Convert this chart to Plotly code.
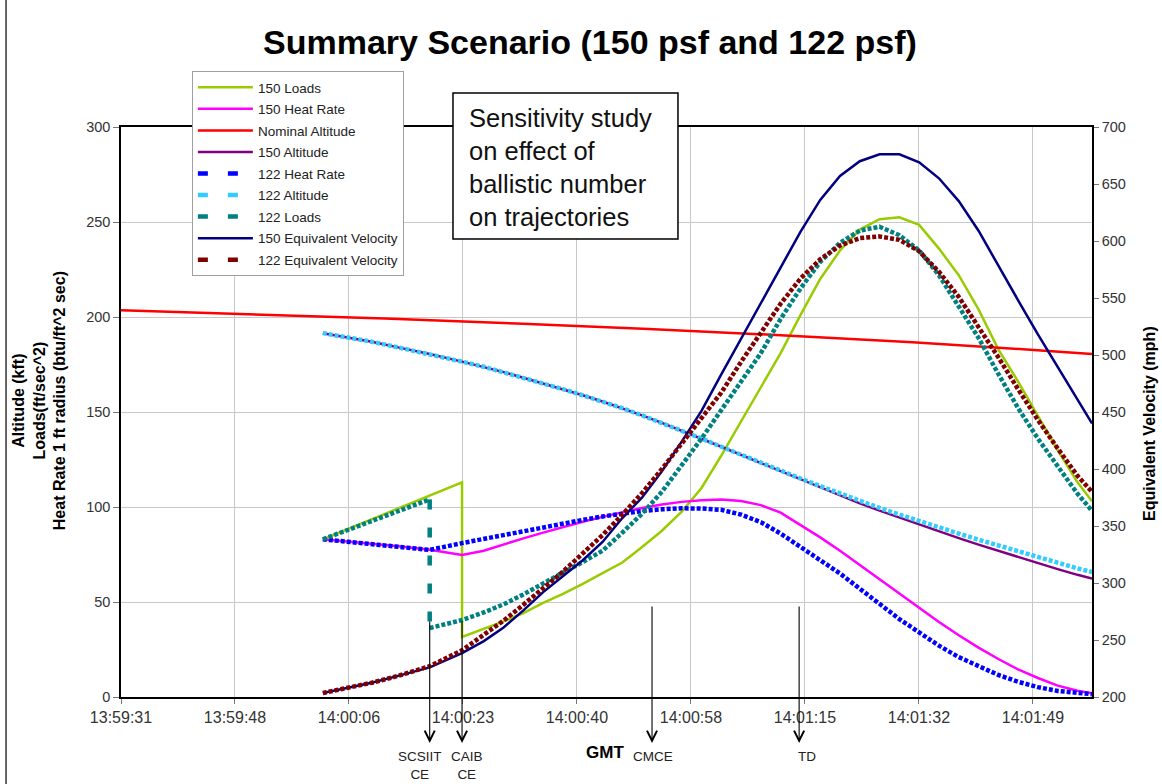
import plotly.graph_objects as go

# time axis: seconds after 13:59:31 GMT
tick_s = [0, 17.28, 34.56, 51.84, 69.12, 86.4, 103.68, 120.96, 138.24]
tick_labels = ["13:59:31", "13:59:48", "14:00:06", "14:00:23", "14:00:40",
               "14:00:58", "14:01:15", "14:01:32", "14:01:49"]

time_s = [30.6, 34, 38, 42, 46.8, 51.7, 55, 58, 61, 64, 67, 70, 73, 76, 79, 82, 85, 88, 91,
          94, 97, 100, 103, 106, 109, 112, 115, 118, 121, 124, 127, 130, 133, 136, 139, 142,
          145, 147.2]

heat_150 = [83, 82, 80.6, 79.3, 77.5, 74.8, 77, 80.4, 83.5, 86.5, 89.5, 92.2, 94.8, 97.3, 99.5,
            101.3, 102.7, 103.6, 104, 103.2, 101, 97, 90.5, 84, 77, 69.5, 62, 54.5, 47, 39.5,
            32.5, 26, 20, 14.5, 10, 6, 3.3, 2]
heat_122 = [83, 81.8, 80.4, 79.1, 77.4, 81, 83.3, 85.2, 87.2, 89.1, 91.2, 93.2, 95, 96.6, 97.9,
            98.8, 99.3, 99.2, 98.5, 96, 92, 86, 79, 72, 65, 57, 49, 41, 34, 27, 21, 16, 11.6, 8,
            5.2, 3.2, 2, 1.5]
alt_122 = [191.5, 189.5, 187, 184, 180.5, 176.5, 173.8, 171, 168, 165, 162, 158.8, 155.5, 152,
           148.2, 144.3, 140.2, 136, 131.7, 127.4, 123.1, 119, 115, 111, 107, 103, 99.5, 96,
           92.5, 89.2, 86, 82.8, 79.7, 76.6, 73.6, 70.6, 67.7, 65.8]
alt_150 = [191.5, 189.5, 187, 184, 180.5, 176.5, 173.8, 171, 168, 165, 162, 158.8, 155.5, 152,
           148.2, 144.3, 140.2, 136, 131.7, 127.4, 123.1, 118.8, 114.6, 110.4, 106.2, 101.9,
           98.1, 94.4, 90.6, 87.1, 83.6, 80.2, 76.9, 73.6, 70.4, 67.3, 64.3, 62.3]
vel_150 = [203.5, 207.5, 212.5, 218.5, 226, 238.5, 249, 261, 276, 292, 306, 320, 336, 357, 375,
           398, 424, 451, 483, 514, 545, 577, 608, 636, 657, 670, 676, 676, 669, 655, 635, 609,
           578, 548, 518, 489, 460, 440]
vel_122 = [203.5, 207.5, 212.5, 218.5, 227, 241, 254, 267, 281, 295, 310, 326, 342, 360, 379,
           400, 422, 444, 467, 494, 519, 545, 567, 584, 596, 602.5, 604, 601, 591, 573, 551,
           525, 498, 470, 443, 418, 394, 380]

loads_150_t = [30.6, 51.7, 51.7, 55, 58, 61, 64, 67, 70, 73, 76, 79, 82, 85, 88, 91, 94, 97,
               100, 103, 106, 109, 112, 115, 118, 121, 124, 127, 130, 133, 136, 139, 142, 145,
               147.2]
loads_150 = [83, 113, 31.6, 35.8, 39.8, 44.2, 49.5, 54.3, 59.5, 65.2, 70.8, 79, 87.5, 97.5,
             110, 127, 145, 163, 181, 201, 220, 235, 246, 251.5, 252.5, 248.5, 236, 222, 204,
             183, 166, 148, 130, 113, 103]
loads_122_t = [30.6, 46.8, 46.8, 51.7, 55, 58, 61, 64, 67, 70, 73, 76, 79, 82, 85, 88, 91, 94,
               97, 100, 103, 106, 109, 112, 115, 118, 121, 124, 127, 130, 133, 136, 139, 142,
               145, 147.2]
loads_122 = [83, 104, 36.3, 40.5, 44.5, 48.8, 54, 60, 65.5, 71, 77, 86.5, 96.5, 108, 122, 136,
             151, 166, 181, 199, 215, 229, 239, 245.5, 247.5, 243, 235, 222, 206, 189, 170, 152,
             136, 121, 107, 98]

nominal_t = [0, 20, 40, 60, 80, 100, 120, 140, 147.2]
nominal_alt = [203.5, 201.5, 199.2, 196.6, 193.7, 190.4, 186.7, 182.3, 180.5]

event_names = ["SCSIIT<br>CE", "CAIB<br>CE", "CMCE", "TD"]
event_s = [46.8, 51.7, 80.5, 102.8]

FONT = "Arial, Liberation Sans, sans-serif"
DOTS = "4px,2px"

fig = go.Figure()


def add_line(x, y, name, color, dotted=False, yaxis="y", legend=True):
    width = 4.5 if dotted else 2.5
    fig.add_trace(go.Scatter(x=x, y=y, name=name, mode="lines", yaxis=yaxis, legendgroup=name,
                             showlegend=legend and not dotted,
                             line=dict(color=color, width=width, dash=DOTS if dotted else None)))
    if dotted and legend:
        # legend sample drawn as two short dashes, like the original
        fig.add_trace(go.Scatter(x=[None], y=[None], name=name, mode="lines", yaxis=yaxis,
                                 legendgroup=name,
                                 line=dict(color=color, width=width, dash="10px,20px")))


add_line(loads_150_t, loads_150, "150 Loads", "#99CC00")
add_line(time_s, heat_150, "150 Heat Rate", "#FF00FF")
add_line(nominal_t, nominal_alt, "Nominal Altitude", "#FF0000")
add_line(time_s, alt_150, "150 Altitude", "#800080")
add_line(time_s, heat_122, "122 Heat Rate", "#0000FF", dotted=True)
add_line(time_s, alt_122, "122 Altitude", "#33CCFF", dotted=True)

# 122 loads: dotted curve, with the drop at SCSIIT drawn as long dashes
add_line(loads_122_t[:2] + [None] + loads_122_t[2:], loads_122[:2] + [None] + loads_122[2:],
         "122 Loads", "#008080", dotted=True)
fig.add_trace(go.Scatter(x=loads_122_t[1:3], y=loads_122[1:3], mode="lines", showlegend=False,
                         legendgroup="122 Loads",
                         line=dict(color="#008080", width=4.5, dash="10px,18px")))

add_line(time_s, vel_150, "150 Equivalent Velocity", "#000080", yaxis="y2")
add_line(time_s, vel_122, "122 Equivalent Velocity", "#800000", dotted=True, yaxis="y2")

# event arrows below the time axis
arrow_len = [123, 123, 138, 138]
label_shift = [-10, 5, 1, 8]
for name, t, alen, dx in zip(event_names, event_s, arrow_len, label_shift):
    fig.add_annotation(x=t, y=-0.0807, xref="x", yref="paper", text="", showarrow=True,
                       ax=0, ay=-alen, arrowhead=5, arrowsize=1.8, arrowwidth=1.1,
                       arrowcolor="black")
    fig.add_annotation(x=t, y=-0.088, xref="x", yref="paper", text=name, showarrow=False,
                       xshift=dx, xanchor="center", yanchor="top",
                       font=dict(size=13.5, color="#222"))

fig.add_annotation(x=0.4985, y=-0.0965, xref="paper", yref="paper", text="<b>GMT</b>",
                   xanchor="center", yanchor="middle", showarrow=False,
                   font=dict(size=17, color="black"))

fig.add_annotation(x=-0.0844, y=0.519, xref="paper", yref="paper", textangle=-90,
                   xanchor="center", yanchor="middle",
                   text="<b>Altitude (kft)<br>Loads(ft/sec^2)<br>"
                        "Heat Rate 1 ft radius (btu/ft^2 sec)</b>",
                   showarrow=False, font=dict(size=16, color="black"))
fig.add_annotation(x=1.0587, y=0.4807, xref="paper", yref="paper", textangle=-90,
                   xanchor="center", yanchor="middle",
                   text="<b>Equivalent Velocity (mph)</b>", showarrow=False,
                   font=dict(size=16, color="black"))

# note box
fig.add_shape(type="rect", xref="paper", yref="paper", x0=0.3419, x1=0.5736, y0=0.8035,
              y1=1.0596, fillcolor="white", line=dict(color="black", width=1.5), layer="above")
fig.add_annotation(x=0.3574, y=1.0421, xref="paper", yref="paper", xanchor="left",
                   yanchor="top", align="left", showarrow=False, borderpad=0,
                   text="Sensitivity study<br>on effect of<br>ballistic number<br>on trajectories",
                   font=dict(size=25.5, color="#111"))

# edge of the original chart frame on the left
fig.add_shape(type="line", xref="paper", yref="paper", x0=-0.1184, x1=-0.1184, y0=-0.1526,
              y1=1.2228, line=dict(color="#333", width=1.5))

axis_common = dict(showline=True, linecolor="black", linewidth=1.5, ticks="outside",
                   tickcolor="#777", zeroline=False, tickfont=dict(size=14.5, color="#333"))

fig.update_layout(
    width=1162, height=784,
    margin=dict(l=121, r=70, t=127, b=87),
    paper_bgcolor="white", plot_bgcolor="white",
    font=dict(family=FONT, color="black"),
    title=dict(text="<b>Summary Scenario (150 psf and 122 psf)</b>", x=0.5077, xref="container",
               y=0.9464, yref="container", xanchor="center", yanchor="middle",
               font=dict(size=34, color="black")),
    xaxis=dict(range=[0, 147.2], tickvals=tick_s, ticktext=tick_labels, showgrid=True,
               gridcolor="#C8C8C8", mirror=True, ticklen=5,
               **{**axis_common, "tickfont": dict(size=16, color="#333")}),
    yaxis=dict(range=[0, 300], dtick=50, showgrid=True, gridcolor="#C8C8C8", ticklen=6,
               **axis_common),
    yaxis2=dict(range=[200, 700], dtick=50, overlaying="y", side="right", showgrid=False,
                ticklen=5, **axis_common),
    showlegend=True,
    legend=dict(x=0.073, y=1.0982, xanchor="left", yanchor="top", bgcolor="white",
                bordercolor="#A0A0A0", borderwidth=1, traceorder="grouped", tracegroupgap=1,
                itemwidth=55, font=dict(size=13.5, color="#222")),
)

fig.write_html("out.html", config={"displayModeBar": False},
               post_script="document.body.style.margin = '0px';")
